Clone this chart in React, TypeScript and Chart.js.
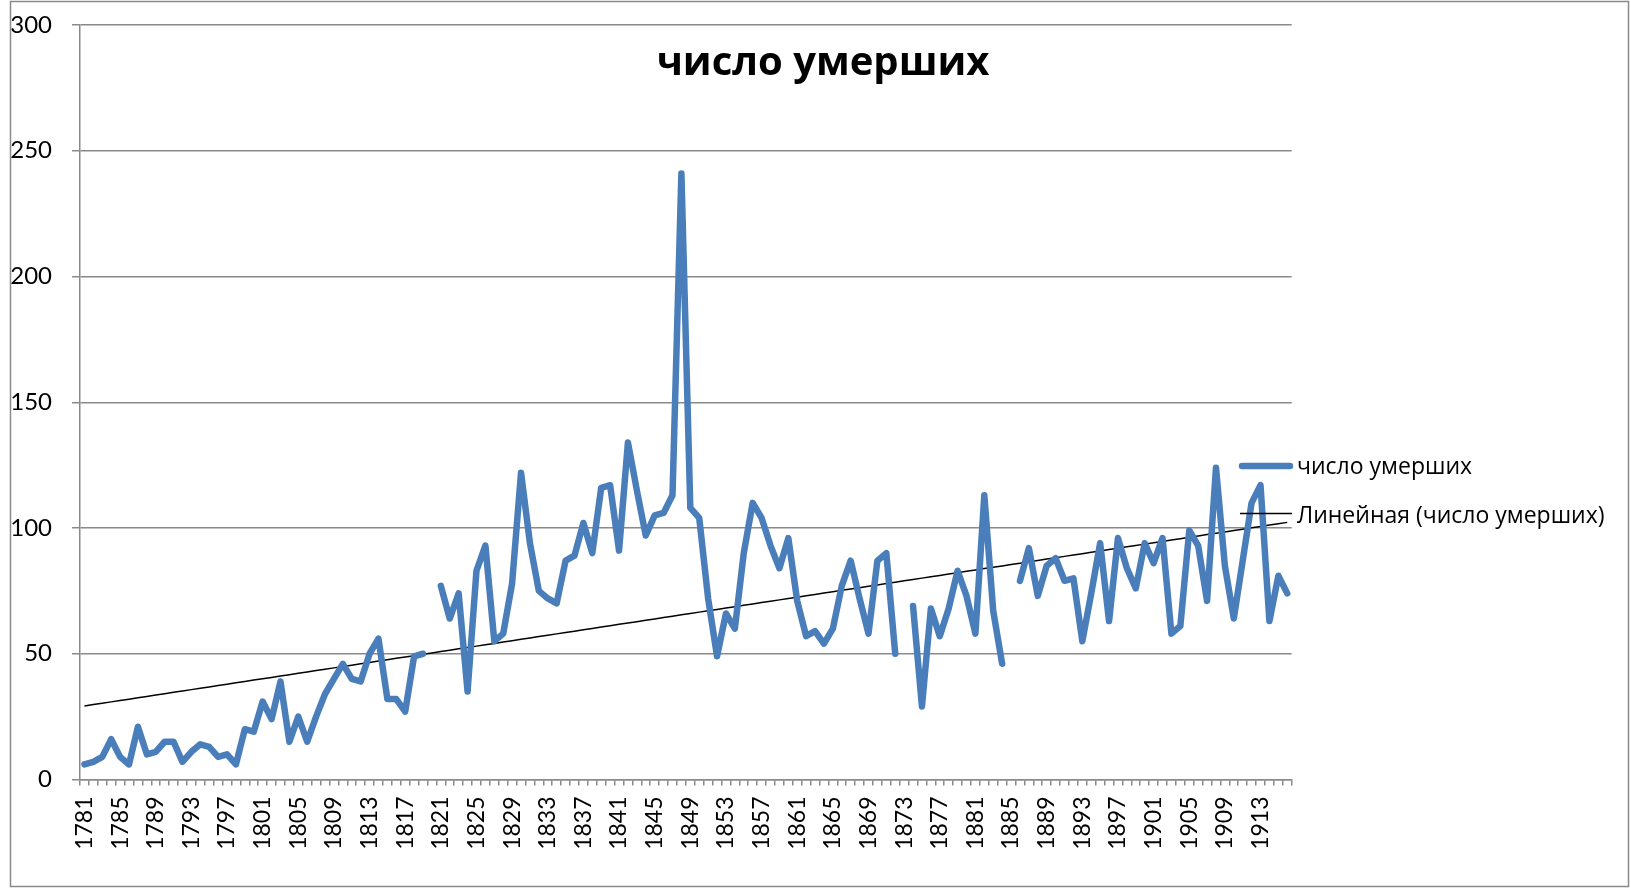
import React, { useEffect, useRef } from "react";
import { Chart, registerables } from "chart.js";

Chart.register(...registerables);

const years: string[] = [
  "1781","1782","1783","1784","1785","1786","1787","1788","1789","1790",
  "1791","1792","1793","1794","1795","1796","1797","1798","1799","1800",
  "1801","1802","1803","1804","1805","1806","1807","1808","1809","1810",
  "1811","1812","1813","1814","1815","1816","1817","1818","1819","1820",
  "1821","1822","1823","1824","1825","1826","1827","1828","1829","1830",
  "1831","1832","1833","1834","1835","1836","1837","1838","1839","1840",
  "1841","1842","1843","1844","1845","1846","1847","1848","1849","1850",
  "1851","1852","1853","1854","1855","1856","1857","1858","1859","1860",
  "1861","1862","1863","1864","1865","1866","1867","1868","1869","1870",
  "1871","1872","1873","1874","1875","1876","1877","1878","1879","1880",
  "1881","1882","1883","1884","1885","1886","1887","1888","1889","1890",
  "1891","1892","1893","1894","1895","1896","1897","1898","1899","1900",
  "1901","1902","1903","1904","1905","1906","1907","1908","1909","1910",
  "1911","1912","1913","1914","1915","1916"
];

const deaths: (number | null)[] = [
  6, 7, 9, 16, 9, 6, 21, 10, 11, 15,
  15, 7, 11, 14, 13, 9, 10, 6, 20, 19,
  31, 24, 39, 15, 25, 15, 25, 34, 40, 46,
  40, 39, 50, 56, 32, 32, 27, 49, 50, null,
  77, 64, 74, 35, 83, 93, 55, 58, 78, 122,
  94, 75, 72, 70, 87, 89, 102, 90, 116, 117,
  91, 134, 115, 97, 105, 106, 113, 241, 108, 104,
  72, 49, 66, 60, 90, 110, 104, 93, 84, 96,
  71, 57, 59, 54, 60, 77, 87, 72, 58, 87,
  90, 50, null, 69, 29, 68, 57, 68, 83, 73,
  58, 113, 67, 46, null, 79, 92, 73, 85, 88,
  79, 80, 55, 74, 94, 63, 96, 84, 76, 94,
  86, 96, 58, 61, 99, 93, 71, 124, 85, 64,
  87, 110, 117, 63, 81, 74
];

const tickLabels: string[] = [
  "1781","1785","1789","1793","1797","1801","1805","1809","1813","1817",
  "1821","1825","1829","1833","1837","1841","1845","1849","1853","1857",
  "1861","1865","1869","1873","1877","1881","1885","1889","1893","1897",
  "1901","1905","1909","1913"
];

const yTicks: number[] = [0, 50, 100, 150, 200, 250, 300];

const seriesName = "число умерших";
const trendName = "Линейная (число умерших)";
const chartTitle = "число умерших";

const BLUE = "#4A7EBB";
const GRID = "#8a8a8a";

function linearTrend(values: (number | null)[]): number[] {
  let n = 0, sx = 0, sy = 0, sxx = 0, sxy = 0;
  values.forEach((v, i) => {
    if (v == null) return;
    const x = i + 1;
    n++; sx += x; sy += v; sxx += x * x; sxy += x * v;
  });
  const b = (n * sxy - sx * sy) / (n * sxx - sx * sx);
  const a = (sy - b * sx) / n;
  return values.map((_, i) => a + b * (i + 1));
}

const overlay = {
  id: "overlay",
  afterDraw(chart: any) {
    const ctx = chart.ctx as CanvasRenderingContext2D;
    ctx.save();
    // outer frame
    ctx.strokeStyle = GRID;
    ctx.lineWidth = 1.5;
    ctx.strokeRect(10.5, 1.5, 1618, 885);
    // title
    ctx.fillStyle = "#000";
    ctx.font = 'bold 40px "Open Sans"';
    ctx.textAlign = "center";
    ctx.textBaseline = "alphabetic";
    ctx.fillText(chartTitle, 823, 75);
    // legend
    const ds = chart.data.datasets;
    ctx.textAlign = "left";
    ctx.font = '23px "Open Sans"';
    // series
    ctx.strokeStyle = ds[0].borderColor;
    ctx.lineWidth = ds[0].borderWidth;
    ctx.lineCap = "round";
    ctx.beginPath();
    ctx.moveTo(1242, 466);
    ctx.lineTo(1290, 466);
    ctx.stroke();
    ctx.fillText(ds[0].label, 1297, 474);
    // trend
    ctx.strokeStyle = ds[1].borderColor;
    ctx.lineWidth = ds[1].borderWidth;
    ctx.lineCap = "butt";
    ctx.beginPath();
    ctx.moveTo(1240, 513.5);
    ctx.lineTo(1292, 513.5);
    ctx.stroke();
    ctx.fillText(ds[1].label, 1297, 523);
    ctx.restore();
  },
};

export default function App() {
  const ref = useRef<HTMLCanvasElement | null>(null);

  useEffect(() => {
    if (!ref.current) return;
    const trend = linearTrend(deaths);
    const chart = new Chart(ref.current, {
      type: "line",
      data: {
        labels: years,
        datasets: [
          {
            label: seriesName,
            data: deaths,
            borderColor: BLUE,
            backgroundColor: BLUE,
            borderWidth: 6.5,
            pointRadius: 0,
            borderJoinStyle: "round",
            borderCapStyle: "round",
            spanGaps: false,
            tension: 0,
          },
          {
            label: trendName,
            data: trend,
            borderColor: "#000000",
            backgroundColor: "#000000",
            borderWidth: 1.5,
            pointRadius: 0,
            tension: 0,
          },
        ],
      },
      options: {
        responsive: false,
        animation: false,
        layout: { padding: { top: 25, right: 339.3, left: 0, bottom: 0 } },
        plugins: {
          legend: { display: false },
          title: { display: false },
          tooltip: { enabled: false },
        },
        scales: {
          x: {
            type: "category",
            offset: true,
            afterFit: (s: any) => {
              s.height = 109.5;
              s.paddingLeft = 0; s.paddingRight = 0; s.paddingTop = 0; s.paddingBottom = 0;
            },
            grid: {
              display: true,
              drawOnChartArea: false,
              drawTicks: true,
              tickLength: 6,
              offset: true,
              color: GRID,
              lineWidth: 1.5,
            },
            border: { display: true, color: GRID, width: 1.5 },
            ticks: {
              autoSkip: false,
              maxRotation: 90,
              minRotation: 90,
              padding: 11,
              color: "#000",
              font: { family: "Lato", size: 23 },
              callback: function (this: any, _v: any, i: number) {
                const lab = years[i];
                return tickLabels.includes(lab) ? lab : "";
              },
            },
          },
          y: {
            min: 0,
            max: 300,
            afterFit: (s: any) => {
              s.width = 80;
              s.paddingLeft = 0; s.paddingRight = 0; s.paddingTop = 0; s.paddingBottom = 0;
            },
            afterBuildTicks: (s: any) => { s.ticks = yTicks.map((v) => ({ value: v })); },
            grid: {
              display: true,
              drawTicks: true,
              tickLength: 8,
              color: GRID,
              lineWidth: 1.5,
            },
            border: { display: true, color: GRID, width: 1.5 },
            ticks: {
              padding: 20,
              color: "#000",
              font: { family: "Lato", size: 24 },
            },
          },
        },
      },
      plugins: [overlay],
    } as any);
    return () => chart.destroy();
  }, []);

  return (
    <div style={{ position: "fixed", left: 0, top: 0, width: 1631, height: 889, background: "#fff" }}>
      <canvas ref={ref} width={1631} height={889} style={{ display: "block", width: 1631, height: 889 }} />
    </div>
  );
}
